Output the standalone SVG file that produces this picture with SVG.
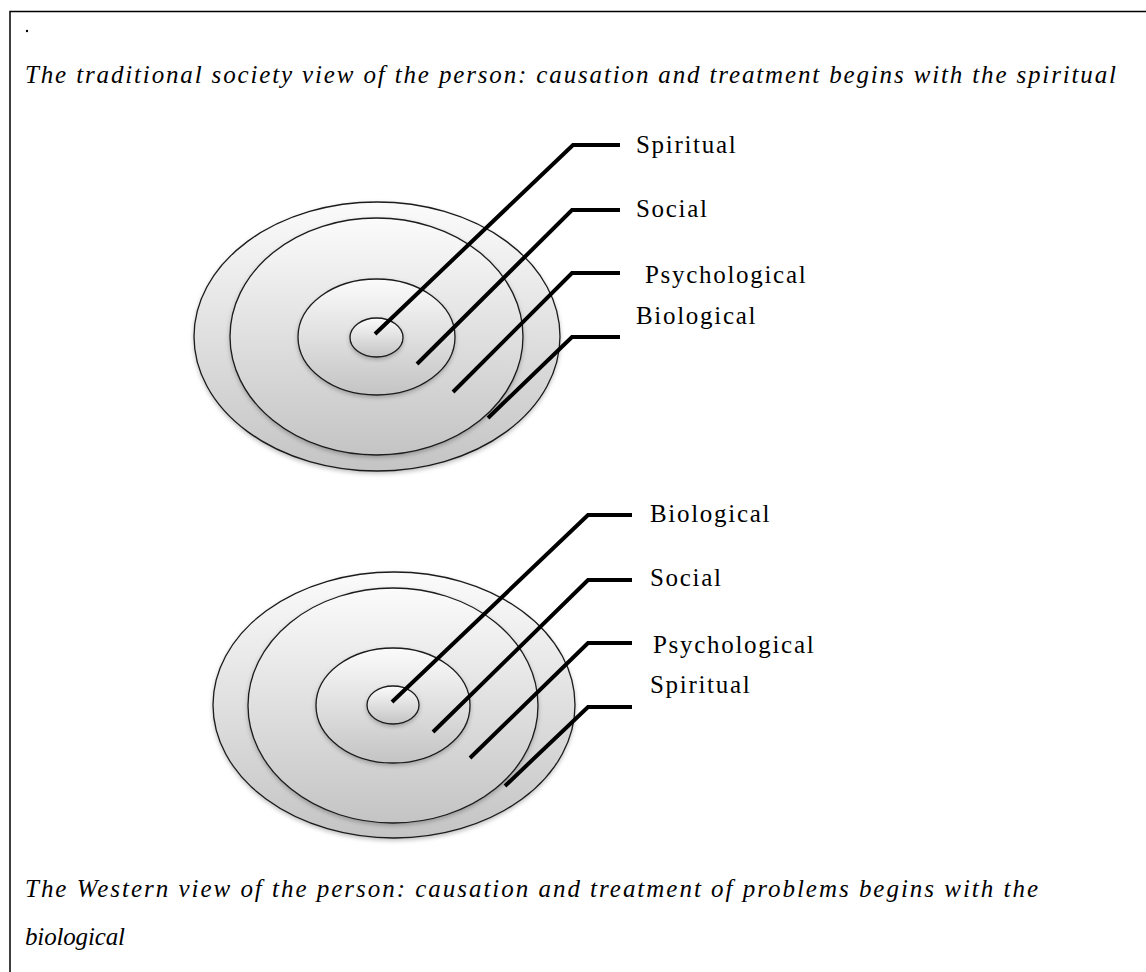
<svg xmlns="http://www.w3.org/2000/svg" width="1146" height="972" viewBox="0 0 1146 972">
<style>
.title{font-family:"Liberation Serif","Times New Roman",serif;font-style:italic;font-size:25px;fill:#000}
.lbl{font-family:"Liberation Serif","Times New Roman",serif;font-size:25px;letter-spacing:1.7px;fill:#000}
.ring{stroke:#1a1a1a;stroke-width:1.3;fill:url(#g)}
.lead{fill:none;stroke:#000;stroke-width:4;stroke-linejoin:miter}
</style>
<defs>
<linearGradient id="g" x1="0" y1="0" x2="0" y2="1">
<stop offset="0" stop-color="#fbfbfb"/>
<stop offset="1" stop-color="#c4c4c4"/>
</linearGradient>
<filter id="sh" x="-10%" y="-10%" width="120%" height="125%">
<feDropShadow dx="0" dy="2" stdDeviation="2" flood-color="#000" flood-opacity="0.25"/>
</filter>
</defs>
<rect width="1146" height="972" fill="#fff"/>
<path d="M10,972 V11.5 H1146" fill="none" stroke="#000" stroke-width="1.5"/>
<circle cx="27" cy="31" r="1.2" fill="#000"/>
<text class="title" x="25" y="83" textLength="1091" lengthAdjust="spacing">The traditional society view of the person: causation and treatment begins with the spiritual</text>

<g id="top-diagram">
<ellipse class="ring" filter="url(#sh)" cx="377" cy="336.5" rx="183" ry="134.5"/>
<ellipse class="ring" filter="url(#sh)" cx="376.5" cy="336.5" rx="146.5" ry="118.5"/>
<ellipse class="ring" filter="url(#sh)" cx="376.5" cy="337" rx="78.5" ry="58"/>
<ellipse class="ring" filter="url(#sh)" cx="376.5" cy="337.5" rx="26.5" ry="19.5"/>
</g>
<g id="bottom-diagram">
<ellipse class="ring" filter="url(#sh)" cx="394" cy="705" rx="181" ry="133"/>
<ellipse class="ring" filter="url(#sh)" cx="393" cy="705.5" rx="145" ry="117.5"/>
<ellipse class="ring" filter="url(#sh)" cx="393" cy="705.5" rx="77" ry="57.5"/>
<ellipse class="ring" filter="url(#sh)" cx="393" cy="705" rx="26" ry="19"/>
</g>

<g id="connectors">
<path class="lead" d="M375,334 L573,145 H620"/>
<path class="lead" d="M417,364 L572,210 H620"/>
<path class="lead" d="M453,392 L572,273 H620"/>
<path class="lead" d="M488,418 L572,337 H620"/>
<path class="lead" d="M392,702 L588,515 H632"/>
<path class="lead" d="M433,732 L588,580 H632"/>
<path class="lead" d="M470,758 L588,643 H632"/>
<path class="lead" d="M505,786 L588,707 H632"/>
</g>

<g id="label-top-spiritual"><text class="lbl" x="636" y="153">Spiritual</text></g>
<g id="label-top-social"><text class="lbl" x="636" y="217">Social</text></g>
<g id="label-top-psychological"><text class="lbl" x="645" y="283">Psychological</text></g>
<g id="label-top-biological"><text class="lbl" x="636" y="324">Biological</text></g>

<g id="label-bottom-biological"><text class="lbl" x="650" y="522">Biological</text></g>
<g id="label-bottom-social"><text class="lbl" x="650" y="586">Social</text></g>
<g id="label-bottom-psychological"><text class="lbl" x="653" y="653">Psychological</text></g>
<g id="label-bottom-spiritual"><text class="lbl" x="650" y="693">Spiritual</text></g>

<text class="title" x="25" y="897" textLength="1013" lengthAdjust="spacing">The Western view of the person: causation and treatment of problems begins with the</text>
<text class="title" x="25" y="945" textLength="100" lengthAdjust="spacing">biological</text>
</svg>
